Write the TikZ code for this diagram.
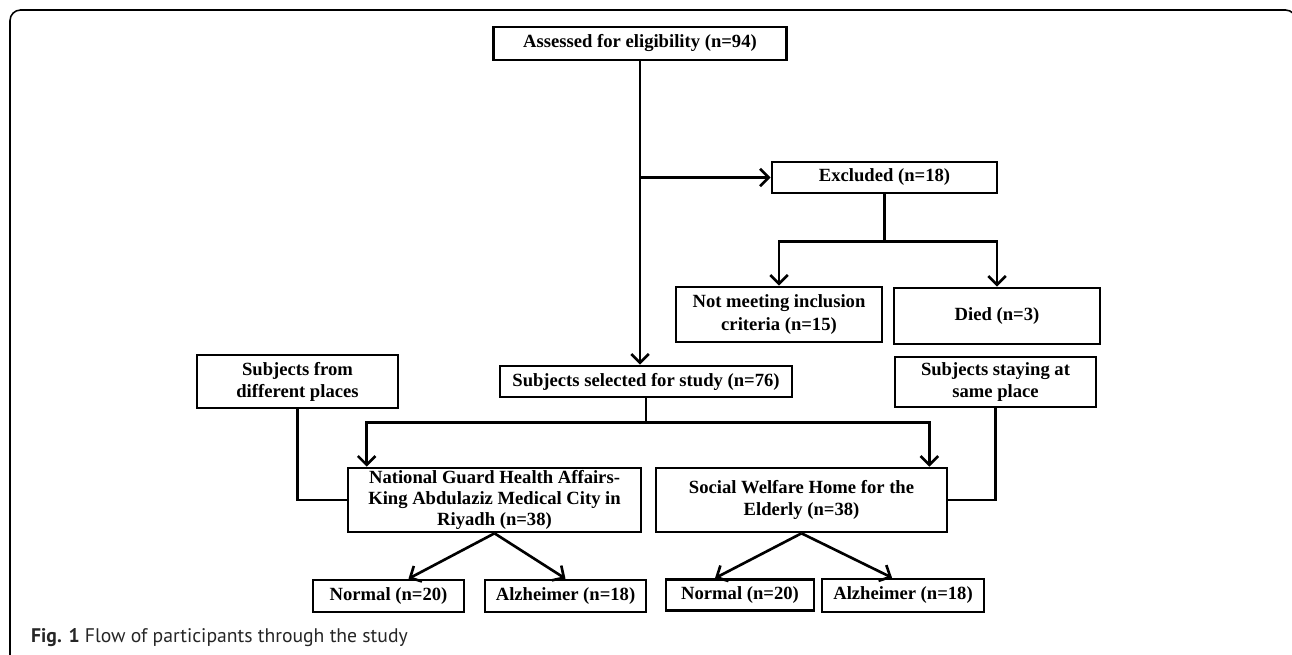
\documentclass[tikz,border=0pt]{standalone}
\usepackage{fontspec}
\setmainfont{Liberation Serif}
\newfontfamily\capfont{PT Sans}
\usetikzlibrary{arrows.meta,calc}
\def\px{0.02cm}

\tikzset{
  flowbox/.style={draw, line width=1.5pt, align=center, inner sep=0pt,
    font=\bfseries\fontsize{10.6}{12.6}\selectfont},
  link/.style={line width=1.5pt},
  arr/.style={line width=1.5pt, -{Straight Barb[length=5pt,width=10pt,line width=1.5pt]}}
}

\begin{document}
\begin{tikzpicture}[x=0.02cm, y=-0.02cm]
	%%%%% START %%%%%
	\useasboundingbox (0,0) rectangle (1292,655);
	\draw[line width=0.9pt, rounded corners=6pt] (10,665) -- (10,10) -- (1296,10) -- (1296,665);
	
	\node[flowbox, minimum width=293*\px, minimum height=33*\px] (assess) at (640,43.5) {Assessed for eligibility (n=94)};
	\node[flowbox, minimum width=225*\px, minimum height=31*\px] (excl) at (884.5,177.5) {Excluded (n=18)};
	\node[flowbox, minimum width=206*\px, minimum height=55*\px] (notmeet) at (779,314.5) {Not meeting inclusion\\criteria (n=15)};
	\node[flowbox, minimum width=206*\px, minimum height=56*\px] (died) at (997,316) {Died (n=3)};
	
	\node[flowbox, minimum width=292*\px, minimum height=31*\px] (selected) at (646,381.5) {Subjects selected for study (n=76)};
	\node[flowbox, minimum width=201*\px, minimum height=53*\px] (diffpl) at (297.5,381.5) {Subjects from\\different places};
	\node[flowbox, minimum width=201*\px, minimum height=50*\px] (samepl) at (995.5,382) {Subjects staying at\\same place};
	
	\node[flowbox, minimum width=293*\px, minimum height=64*\px, font=\bfseries\fontsize{10.6}{12}\selectfont] (ng) at (494.5,500) {National Guard Health Affairs-\\King Abdulaziz Medical City in\\Riyadh (n=38)};
	\node[flowbox, minimum width=291*\px, minimum height=64*\px] (sw) at (801.5,500) {Social Welfare Home for the\\Elderly (n=38)};
	
	\node[flowbox, minimum width=151*\px, minimum height=32*\px] (norm1) at (388.5,596) {Normal (n=20)};
	\node[flowbox, minimum width=161*\px, minimum height=32*\px] (alz1) at (565.5,596) {Alzheimer (n=18)};
	\node[flowbox, minimum width=148*\px, minimum height=31*\px] (norm2) at (740,595) {Normal (n=20)};
	\node[flowbox, minimum width=162*\px, minimum height=33*\px] (alz2) at (903,595.5) {Alzheimer (n=18)};
	
	% eligibility and exclusions
	\draw[arr] (assess.south) -- (assess.south |- selected.north);
	\draw[arr] (assess.south |- excl.west) -- (excl.west);
	\coordinate (exsplit) at ($(excl.south)+(0,47)$);
	\draw[link] (excl.south) -- (exsplit);
	\draw[arr] (exsplit) -| (notmeet.north);
	\draw[arr] (exsplit) -| (died.north);
	
	% the two sites
	\coordinate (selsplit) at ($(selected.south)+(0,24)$);
	\draw[link] (selected.south) -- (selsplit);
	\draw[arr] (selsplit) -| ($(ng.north west)+(20,0)$);
	\draw[arr] (selsplit) -| ($(sw.north east)+(-19,0)$);
	\draw[link] (diffpl.south) |- (ng.west);
	\draw[link] (samepl.south) |- (sw.east);
	
	% groups
	\draw[arr] (ng.south) -- ($(norm1.north)+(20,0)$);
	\draw[arr] (ng.south) -- (alz1.north);
	\draw[arr] (sw.south) -- ($(norm2.north)+(-25,0)$);
	\draw[arr] (sw.south) -- ($(alz2.north)+(-11,0)$);
	
	\node[anchor=base west, font=\capfont\fontsize{11.2}{13}\selectfont, text=black!85] (caption) at (25,642) {\textbf{Fig. 1} Flow of participants through the study};
	%%%%% END %%%%%
\end{tikzpicture}
\end{document}
